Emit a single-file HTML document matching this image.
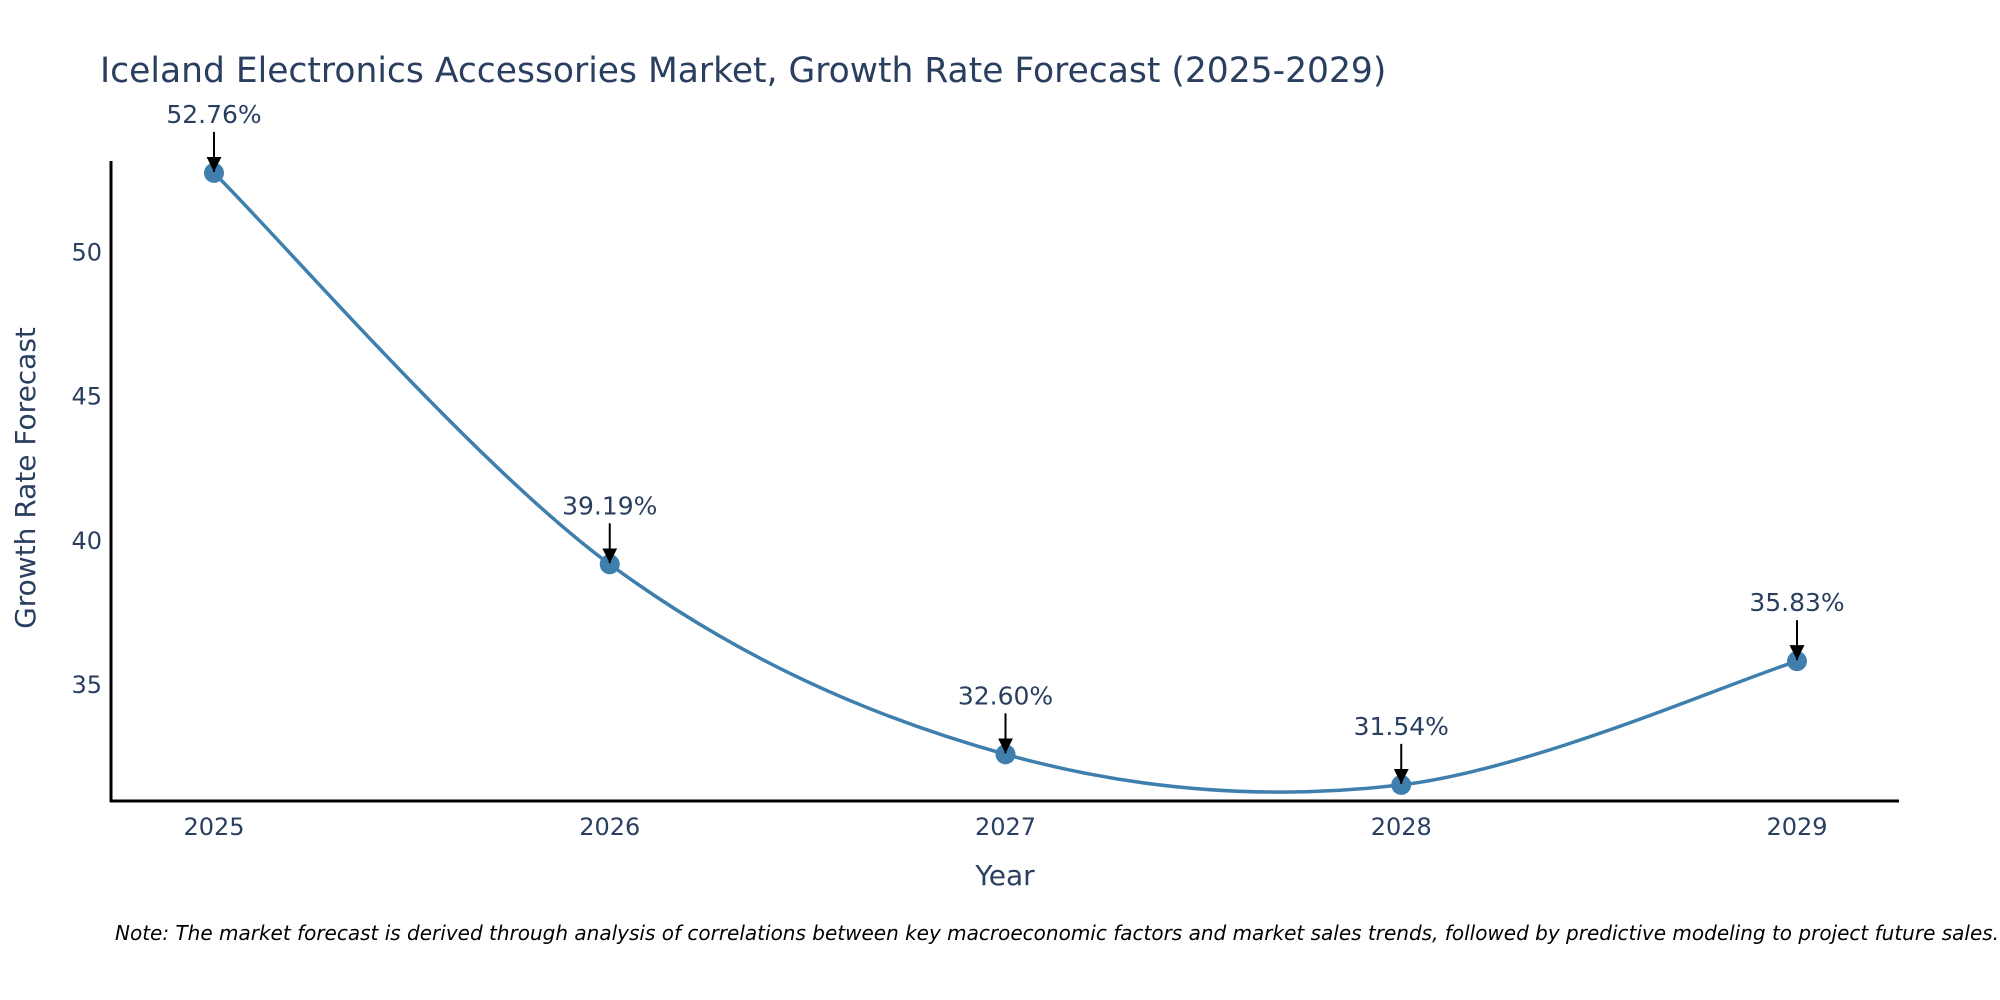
<!DOCTYPE html>
<html><head><meta charset="utf-8"><style>
html,body{margin:0;padding:0;background:#fff;}
svg{display:block;font-family:"DejaVu Sans","Liberation Sans",sans-serif;}
</style></head><body>
<svg id="chart" width="2000" height="1000" viewBox="0 0 2000 1000">
<defs><marker id="ah2" viewBox="0 0 10 10" refX="10" refY="5" markerWidth="15" markerHeight="15" markerUnits="userSpaceOnUse" orient="auto"><path d="M0,0 L10,5 L0,10 z" fill="#000"/></marker></defs>
<text x="100" y="82" font-size="34.5" fill="#2a3f5f">Iceland Electronics Accessories Market, Growth Rate Forecast (2025-2029)</text>
<g id="plot"></g>
<line x1="111" y1="161" x2="111" y2="802" stroke="#000" stroke-width="3"/>
<line x1="110" y1="801" x2="1899" y2="801" stroke="#000" stroke-width="3"/>
<text transform="translate(35,478) rotate(-90)" text-anchor="middle" font-size="28" fill="#2a3f5f">Growth Rate Forecast</text>
<text x="1005" y="885" text-anchor="middle" font-size="28" fill="#2a3f5f">Year</text>
<text x="115" y="940" font-size="20" font-style="italic" fill="#000">Note: The market forecast is derived through analysis of correlations between key macroeconomic factors and market sales trends, followed by predictive modeling to project future sales.</text>
</svg>
<script>
const years = [2025, 2026, 2027, 2028, 2029];
const growth = [52.76, 39.19, 32.60, 31.54, 35.83];
const yTicks = [35, 40, 45, 50];
const labels = ["52.76%", "39.19%", "32.60%", "31.54%", "35.83%"];

const NS = "http://www.w3.org/2000/svg";
const g = document.getElementById("plot");
function xs(v){ return 214 + (v - 2025) * 395.75; }
function ys(v){ return 252.5 + (50 - v) * 28.84; }
function mk(tag, attrs){ const e = document.createElementNS(NS, tag); for (const k in attrs) e.setAttribute(k, attrs[k]); g.appendChild(e); return e; }

yTicks.forEach(t => {
  const e = mk("text", {x: 102, y: ys(t) + 8, "text-anchor": "end", "font-size": 24, fill: "#2a3f5f"});
  e.textContent = t;
  
  
});
years.forEach(t => {
  const e = mk("text", {x: xs(t), y: 835, "text-anchor": "middle", "font-size": 24, fill: "#2a3f5f"});
  e.textContent = t;
  
  
});

const pts = years.map((y, i) => [xs(y), ys(growth[i])]);
let d = "M" + pts[0][0] + "," + pts[0][1];
for (let i = 0; i < pts.length - 1; i++) {
  const p0 = pts[Math.max(0, i - 1)], p1 = pts[i], p2 = pts[i + 1], p3 = pts[Math.min(pts.length - 1, i + 2)];
  const c1 = [p1[0] + (p2[0] - p0[0]) / 6, p1[1] + (p2[1] - p0[1]) / 6];
  const c2 = [p2[0] - (p3[0] - p1[0]) / 6, p2[1] - (p3[1] - p1[1]) / 6];
  d += " C" + c1 + " " + c2 + " " + p2;
}
const line = mk("path", {d: d, fill: "none", stroke: "#3f7fae", "stroke-width": 3.5});



pts.forEach((p, i) => {
  const c = mk("circle", {cx: p[0], cy: p[1], r: 10, fill: "#3f7fae"});
  
  
  const a = mk("line", {x1: p[0], y1: p[1] - 41, x2: p[0], y2: p[1] - 1, stroke: "#000", "stroke-width": 2, "marker-end": "url(#ah2)"});
  
  
  const t = mk("text", {x: p[0], y: p[1] - 50, "text-anchor": "middle", "font-size": 25, fill: "#2a3f5f"});
  t.textContent = labels[i];
  
  
});
</script>
</body></html>
